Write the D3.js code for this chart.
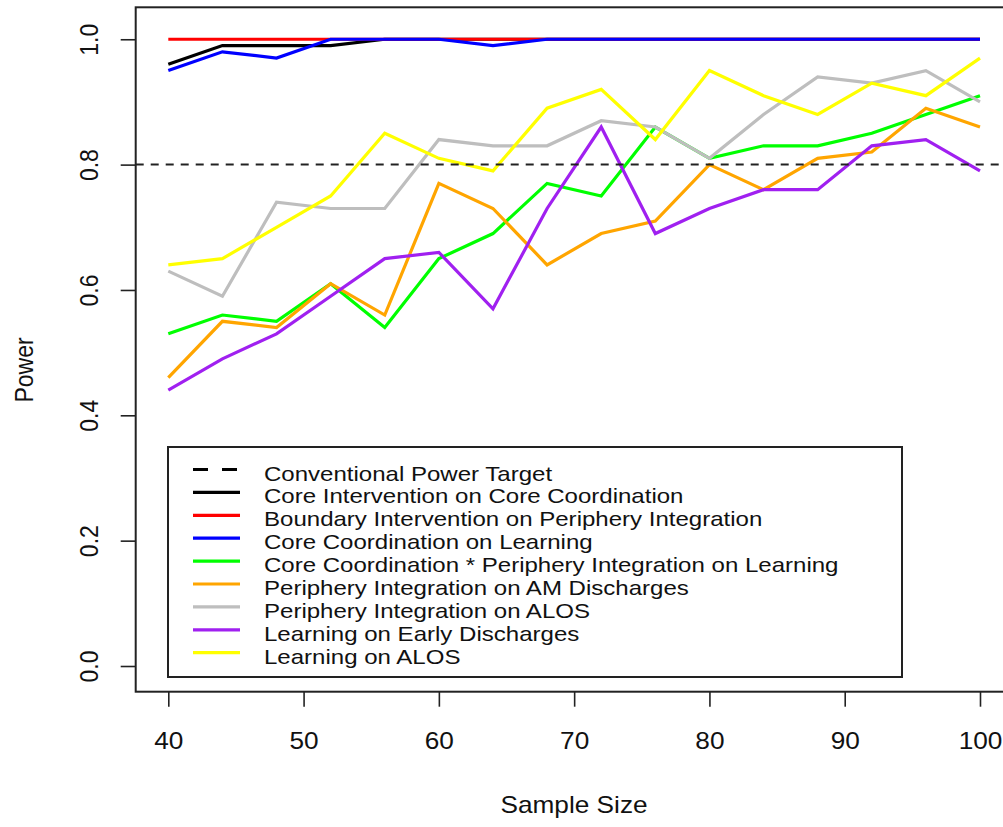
<!DOCTYPE html>
<html>
<head>
<meta charset="utf-8">
<script src="https://cdn.jsdelivr.net/npm/d3@7"></script>
<style>
  body { margin: 0; background: #fff; }
  text { font-family: "Liberation Sans", Arial, sans-serif; fill: #111; }
</style>
</head>
<body>
<div id="chart"></div>
<script>
// Data
const sampleSize = [40, 44, 48, 52, 56, 60, 64, 68, 72, 76, 80, 84, 88, 92, 96, 100];
const coreOnCore = [0.96, 0.99, 0.99, 0.99, 1.00, 1.00, 1.00, 1.00, 1.00, 1.00, 1.00, 1.00, 1.00, 1.00, 1.00, 1.00];
const boundaryOnPeriphery = [1.00, 1.00, 1.00, 1.00, 1.00, 1.00, 1.00, 1.00, 1.00, 1.00, 1.00, 1.00, 1.00, 1.00, 1.00, 1.00];
const coreOnLearning = [0.95, 0.98, 0.97, 1.00, 1.00, 1.00, 0.99, 1.00, 1.00, 1.00, 1.00, 1.00, 1.00, 1.00, 1.00, 1.00];
const coreXPeriphery = [0.53, 0.56, 0.55, 0.61, 0.54, 0.65, 0.69, 0.77, 0.75, 0.86, 0.81, 0.83, 0.83, 0.85, 0.88, 0.91];
const peripheryOnAM = [0.46, 0.55, 0.54, 0.61, 0.56, 0.77, 0.73, 0.64, 0.69, 0.71, 0.80, 0.76, 0.81, 0.82, 0.89, 0.86];
const peripheryOnALOS = [0.63, 0.59, 0.74, 0.73, 0.73, 0.84, 0.83, 0.83, 0.87, 0.86, 0.81, 0.88, 0.94, 0.93, 0.95, 0.90];
const learningOnEarly = [0.44, 0.49, 0.53, 0.59, 0.65, 0.66, 0.57, 0.73, 0.86, 0.69, 0.73, 0.76, 0.76, 0.83, 0.84, 0.79];
const learningOnALOS = [0.64, 0.65, 0.70, 0.75, 0.85, 0.81, 0.79, 0.89, 0.92, 0.84, 0.95, 0.91, 0.88, 0.93, 0.91, 0.97];
const powerTarget = 0.8;

const xTicks = [40, 50, 60, 70, 80, 90, 100];
const yTicks = [0.0, 0.2, 0.4, 0.6, 0.8, 1.0];

const seriesNames = [
  "Core Intervention on Core Coordination",
  "Boundary Intervention on Periphery Integration",
  "Core Coordination on Learning",
  "Core Coordination * Periphery Integration on Learning",
  "Periphery Integration on AM Discharges",
  "Periphery Integration on ALOS",
  "Learning on Early Discharges",
  "Learning on ALOS"
];
const seriesValues = [coreOnCore, boundaryOnPeriphery, coreOnLearning, coreXPeriphery,
  peripheryOnAM, peripheryOnALOS, learningOnEarly, learningOnALOS];
const seriesColors = ["#000000", "#ff0000", "#0000ff", "#00ff00", "#ffa500", "#bebebe", "#a020f0", "#ffff00"];

const dataset = seriesNames.map((name, i) => ({
  name: name,
  color: seriesColors[i],
  values: sampleSize.map((s, j) => ({ size: s, power: seriesValues[i][j] }))
}));

// Layout (the picture is a bit wider than tall, so text gets stretched sideways)
const width = 1003, height = 827;
const plot = { left: 135.7, right: 1012.6, top: 7.3, bottom: 691.7 };
const sx = 1.14;

const svg = d3.select("#chart").append("svg")
  .attr("width", width)
  .attr("height", height);

const x = d3.scaleLinear().domain([37.59, 102.41]).range([plot.left, plot.right]);
const y = d3.scaleLinear().domain([-0.041, 1.051]).range([plot.bottom, plot.top]);

// Axes
const xAxis = svg.append("g")
  .attr("transform", `translate(0,${plot.bottom})`)
  .call(d3.axisBottom(x).tickValues(xTicks).tickSize(15).tickFormat(d3.format("d")));
xAxis.select(".domain").remove();
xAxis.selectAll("line").attr("stroke", "#222").attr("stroke-width", 1.6);
xAxis.selectAll("text")
  .attr("y", null).attr("dy", null)
  .attr("transform", `translate(0,57) scale(${sx},1)`)
  .style("font-size", "23px")
  .attr("fill", "#111");

const yAxis = svg.append("g")
  .attr("transform", `translate(${plot.left},0)`)
  .call(d3.axisLeft(y).tickValues(yTicks).tickSize(15).tickFormat(d3.format(".1f")));
yAxis.select(".domain").remove();
yAxis.selectAll("line").attr("stroke", "#222").attr("stroke-width", 1.6);
yAxis.selectAll("text")
  .attr("x", null).attr("dy", null)
  .attr("text-anchor", "middle")
  .attr("transform", `translate(-38,0) scale(${sx},1) rotate(-90)`)
  .style("font-size", "23px")
  .attr("fill", "#111");

// Axis titles
svg.append("text")
  .attr("transform", `translate(574,813) scale(${sx},1)`)
  .attr("text-anchor", "middle")
  .style("font-size", "23px")
  .text("Sample Size");

svg.append("text")
  .attr("transform", `translate(33,370) scale(${sx},1) rotate(-90)`)
  .attr("text-anchor", "middle")
  .style("font-size", "23px")
  .text("Power");

// Lines
const line = d3.line()
  .x(d => x(d.size))
  .y(d => y(d.power));

svg.selectAll(".series")
  .data(dataset)
  .enter()
  .append("path")
  .attr("class", "series")
  .attr("d", d => line(d.values))
  .attr("fill", "none")
  .attr("stroke", d => d.color)
  .attr("stroke-width", 3.2)
  .attr("stroke-linejoin", "miter");

// Conventional power target
svg.append("line")
  .attr("x1", plot.left).attr("x2", width)
  .attr("y1", y(powerTarget)).attr("y2", y(powerTarget))
  .attr("stroke", "#222")
  .attr("stroke-width", 2)
  .attr("stroke-dasharray", "8,7");

// Plot box
svg.append("rect")
  .attr("x", plot.left).attr("y", plot.top)
  .attr("width", plot.right - plot.left)
  .attr("height", plot.bottom - plot.top)
  .attr("fill", "none")
  .attr("stroke", "#222")
  .attr("stroke-width", 2);

// Legend
const legend = svg.append("g");
legend.append("rect")
  .attr("x", 168).attr("y", 447)
  .attr("width", 734).attr("height", 230)
  .attr("fill", "#fff")
  .attr("stroke", "#222")
  .attr("stroke-width", 2);

const legendItems = [{ name: "Conventional Power Target", color: "#000", dash: "15,14" }]
  .concat(dataset.map(d => ({ name: d.name, color: d.color, dash: null })));

legendItems.forEach((d, i) => {
  const ly = 469.5 + i * 22.9;
  legend.append("line")
    .attr("x1", 193).attr("x2", 240)
    .attr("y1", ly).attr("y2", ly)
    .attr("stroke", d.color)
    .attr("stroke-width", 3.2)
    .attr("stroke-dasharray", d.dash);
  legend.append("text")
    .attr("transform", `translate(264,${ly + 11}) scale(1.145,1)`)
    .style("font-size", "21px")
    .text(d.name);
});
</script>
</body>
</html>
